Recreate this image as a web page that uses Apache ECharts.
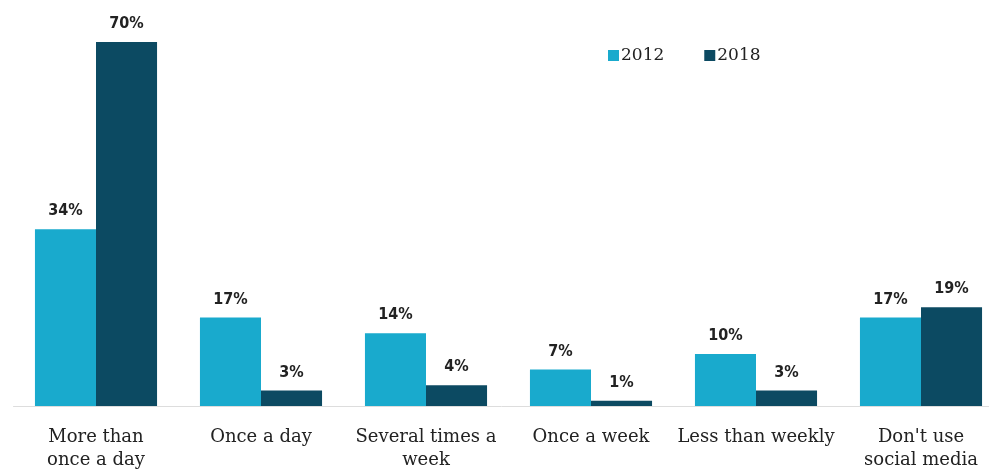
<!DOCTYPE html>
<html>
<head>
<meta charset="utf-8">
<script src="https://cdn.jsdelivr.net/npm/echarts@6/dist/echarts.min.js"></script>
<style>
html,body{margin:0;padding:0;background:#fff;}
#main{width:989px;height:471px;}
</style>
</head>
<body>
<div id="main"></div>
<script>
const categories = ["More than\nonce a day", "Once a day", "Several times a\nweek", "Once a week", "Less than weekly", "Don't use\nsocial media"];
const values2012 = [34, 17, 14, 7, 10, 17];
const values2018 = [70, 3, 4, 1, 3, 19];
const seriesNames = ["2012", "2018"];

const chart = echarts.init(document.getElementById('main'), null, {renderer: 'canvas'});
const labelStyle = {
  show: true,
  position: 'top',
  distance: 10,
  formatter: '{c}%',
  fontFamily: '"DejaVu Sans Condensed", "DejaVu Sans", sans-serif',
  fontWeight: 'bold',
  fontSize: 16,
  color: '#222'
};
chart.setOption({
  animation: false,
  grid: {left: 13.5, width: 990, top: 42, height: 364, containLabel: false, outerBoundsMode: 'none'},
  legend: {
    left: 603, top: 42,
    itemWidth: 11, itemHeight: 11, itemGap: 40,
    icon: 'rect',
    textStyle: {fontFamily: '"DejaVu Serif", serif', fontSize: 17, color: '#222', padding: [0, 0, 0, -3]},
    data: seriesNames
  },
  xAxis: {
    type: 'category',
    data: categories,
    axisLine: {show: true, lineStyle: {color: '#ddd', width: 1}},
    axisTick: {show: false},
    axisLabel: {
      interval: 0,
      margin: 20,
      fontFamily: '"DejaVu Serif", serif',
      fontSize: 18,
      lineHeight: 23,
      color: '#222'
    }
  },
  yAxis: {
    type: 'value', min: 0, max: 70,
    show: false,
    splitLine: {show: false}
  },
  series: [
    {name: seriesNames[0], type: 'bar', data: values2012, barGap: '0%', barCategoryGap: '26%',
     itemStyle: {color: '#19aacd'}, label: labelStyle},
    {name: seriesNames[1], type: 'bar', data: values2018, barGap: '0%', barCategoryGap: '26%',
     itemStyle: {color: '#0c4a62'}, label: labelStyle}
  ]
});
</script>
</body>
</html>
